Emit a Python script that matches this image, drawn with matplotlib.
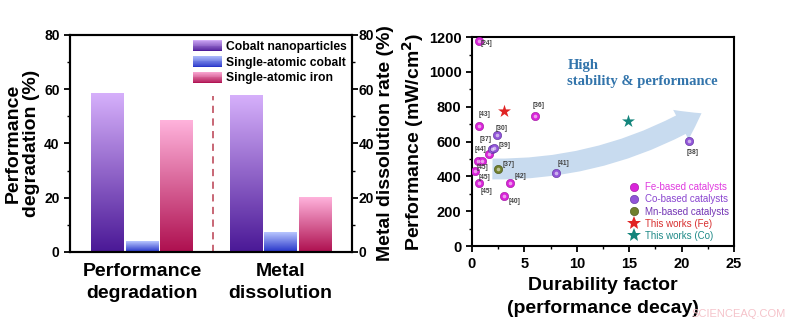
import numpy as np
import matplotlib
matplotlib.use("Agg")
import matplotlib.pyplot as plt
from matplotlib.colors import LinearSegmentedColormap
from matplotlib.legend_handler import HandlerBase
from matplotlib.patches import Rectangle, FancyArrowPatch
from matplotlib.lines import Line2D
from matplotlib.ticker import MultipleLocator

plt.rcParams["font.family"] = ["Liberation Sans", "DejaVu Sans"]
plt.rcParams["font.weight"] = "bold"
plt.rcParams["axes.linewidth"] = 1.5

# ---- left panel: degradation / dissolution bars ----
groups = ["Performance\ndegradation", "Metal\ndissolution"]
catalysts = ["Cobalt nanoparticles", "Single-atomic cobalt", "Single-atomic iron"]
cobalt_np = [58.3, 57.6]
sa_cobalt = [3.9, 7.1]
sa_iron = [48.4, 20.1]

# ---- right panel: performance vs durability ----
fe_x = [0.7, 0.7, 6.0, 1.65, 0.6, 1.0, 0.32, 0.7, 3.63, 3.06]
fe_y = [1180, 692, 749, 529, 489, 489, 431, 364, 360, 289]
fe_refs = ["[24]", "[43]", "[36]", "[44]", "", "[45]", "[45]", "[45]", "[42]", "[40]"]
co_x = [2.4, 1.95, 2.1, 8.03, 20.73]
co_y = [638, 556, 566, 420, 602]
co_refs = ["[30]", "[37]", "[39]", "[41]", "[38]"]
mn_x = [2.45]
mn_y = [441]
mn_refs = ["[37]"]
this_fe = ([3.1], [778])
this_co = ([14.9], [719])
trend_x = [1.95, 21.9]
trend_y = [443, 763]

# label offsets in points (style, not data)
fe_off = [(5, -2), (4, 8), (2.5, 7), (-6.5, 3.6), (0, 0), (0, -5),
          (6.5, -4.8), (4.8, -6), (7.2, 4.8), (7.4, -4.3)]
co_off = [(3.4, 5), (-5, 7), (8, 1.4), (5.5, 7), (2.7, -8)]
mn_off = [(7.7, 3.8)]

bar_colors = [("#4a1896", "#d6b0fb"), ("#2432c8", "#b8c6ff"), ("#ae0f4f", "#ffb3dc")]


def grad_cmap(dark, light):
    return LinearSegmentedColormap.from_list("g", [dark, light])


class GradientKey:
    def __init__(self, dark, light):
        self.dark, self.light = dark, light


class GradientHandler(HandlerBase):
    def create_artists(self, legend, orig_handle, xdescent, ydescent,
                       width, height, fontsize, trans):
        cmap = grad_cmap(orig_handle.dark, orig_handle.light)
        n = 14
        arts = []
        for i in range(n):
            arts.append(Rectangle((-xdescent, -ydescent + i * height / n),
                                  width, height / n * 1.05,
                                  fc=cmap((i + 0.5) / n), lw=0, transform=trans))
        return arts


fig = plt.figure(figsize=(8, 3.26), dpi=100)

ax1 = fig.add_axes([0.0875, 0.227, 0.3525, 0.666])
x = np.arange(len(groups))
width = 0.235
offs = (np.arange(3) - 1) * 0.2475
grad = np.linspace(0, 1, 256).reshape(-1, 1)
for vals, (dark, light), off in zip([cobalt_np, sa_cobalt, sa_iron], bar_colors, offs):
    bars = ax1.bar(x + off, vals, width, color="none", lw=0)
    for b in bars:
        ax1.imshow(grad, cmap=grad_cmap(dark, light), origin="lower", aspect="auto",
                   extent=[b.get_x(), b.get_x() + b.get_width(), 0, b.get_height()],
                   zorder=2)
ax1.axvline(0.51, ymax=0.72, color="#c45a6a", lw=1.3, ls=(0, (4, 3)), zorder=1)
ax1.set_xlim(-0.52, 1.515)
ax1.set_ylim(0, 80)
ax1.set_xticks(x, groups, fontsize=14, fontweight="bold", linespacing=1.4)
ax1.tick_params(axis="x", length=0, pad=8)
ax1.yaxis.set_major_locator(MultipleLocator(20))
ax1.yaxis.set_minor_locator(MultipleLocator(10))
ax1.tick_params(axis="y", which="major", length=4, width=1.3, labelsize=10)
ax1.tick_params(axis="y", which="minor", length=2.5, width=1.0)
ax1.set_ylabel("Performance\ndegradation (%)", fontsize=14, fontweight="bold",
               linespacing=1.1, labelpad=3)

ax1r = ax1.twinx()
ax1r.set_ylim(0, 80)
ax1r.yaxis.set_major_locator(MultipleLocator(20))
ax1r.yaxis.set_minor_locator(MultipleLocator(10))
ax1r.tick_params(axis="y", which="major", length=4, width=1.3, labelsize=10, pad=1)
ax1r.tick_params(axis="y", which="minor", length=2.5, width=1.0)
ax1r.set_ylabel("Metal dissolution rate (%)", fontsize=14, fontweight="bold", labelpad=2)

keys = [GradientKey(d, l) for d, l in bar_colors]
ax1.legend(keys, catalysts, handler_map={GradientKey: GradientHandler()},
           loc="upper right", frameon=False, fontsize=8.7, handlelength=2.4,
           handleheight=1.1, labelspacing=0.25, handletextpad=0.4,
           borderpad=0.3, borderaxespad=0.1)

# ---- right panel ----
ax2 = fig.add_axes([0.59, 0.245, 0.3275, 0.641])
ax2.add_patch(FancyArrowPatch((trend_x[0], trend_y[0]), (trend_x[1], trend_y[1]),
                              connectionstyle="arc3,rad=0.14",
                              arrowstyle="simple,head_length=17,head_width=24,tail_width=15",
                              fc="#c8dbef", ec="none", lw=0, shrinkA=0, shrinkB=0,
                              zorder=1))

fe_c, co_c, mn_c = "#d924d9", "#9155d8", "#717f2c"
for xs, ys, c, ec in [(fe_x, fe_y, fe_c, "#9a0f9a"), (co_x, co_y, co_c, "#5a2a9a"),
                      (mn_x, mn_y, mn_c, "#444f15")]:
    ax2.scatter(xs, ys, s=36, c=c, edgecolors=ec, linewidths=0.4, zorder=3)
    ax2.scatter(xs, ys, s=7, c="white", alpha=0.55, lw=0, zorder=4)

ax2.scatter(*this_fe, s=95, marker="*", c="#e02424", lw=0, zorder=3)
ax2.scatter(*this_co, s=95, marker="*", c="#14857c", lw=0, zorder=3)

for xs, ys, refs, offl in [(fe_x, fe_y, fe_refs, fe_off), (co_x, co_y, co_refs, co_off),
                           (mn_x, mn_y, mn_refs, mn_off)]:
    for xi, yi, r, o in zip(xs, ys, refs, offl):
        if r:
            ax2.annotate(r, (xi, yi), xytext=o, textcoords="offset points",
                         ha="center", va="center", fontsize=4.8, color="#444444",
                         zorder=5)

ax2.text(9.1, 990, "High\nstability & performance", family="Liberation Serif",
         fontweight="bold", fontsize=10.5, color="#3274ab", ha="left", va="center",
         linespacing=1.3)

ax2.set_xlim(0, 25)
ax2.set_ylim(0, 1200)
ax2.xaxis.set_major_locator(MultipleLocator(5))
ax2.xaxis.set_minor_locator(MultipleLocator(2.5))
ax2.yaxis.set_major_locator(MultipleLocator(200))
ax2.yaxis.set_minor_locator(MultipleLocator(100))
ax2.tick_params(which="major", length=4, width=1.3, labelsize=10.5)
ax2.tick_params(which="minor", length=2.5, width=1.0)
ax2.set_xlabel("Durability factor\n(performance decay)", fontsize=14,
               fontweight="bold", linespacing=1.4, labelpad=5)
ax2.set_ylabel("Performance (mW/cm$^\\mathbf{2}$)", fontsize=14, fontweight="bold",
               labelpad=2)

handles = [
    Line2D([], [], ls="none", marker="o", ms=6, mfc=fe_c, mec="#9a0f9a", mew=0.4),
    Line2D([], [], ls="none", marker="o", ms=6, mfc=co_c, mec="#5a2a9a", mew=0.4),
    Line2D([], [], ls="none", marker="o", ms=6, mfc=mn_c, mec="#444f15", mew=0.4),
    Line2D([], [], ls="none", marker="*", ms=10, mfc="#e02424", mew=0),
    Line2D([], [], ls="none", marker="*", ms=10, mfc="#14857c", mew=0),
]
labels = ["Fe-based catalysts", "Co-based catalysts", "Mn-based catalysts",
          "This works (Fe)", "This works (Co)"]
ax2.legend(handles, labels, loc="lower right", frameon=False,
           labelcolor=["#e03ae0", "#8a45d0", "#7234b4", "#d83030", "#208a88"],
           prop={"weight": "normal", "size": 7}, handlelength=1.0,
           handletextpad=0.6, labelspacing=0.22, borderaxespad=0.15)

fig.text(0.982, 0.02, "SCIENCEAQ.COM", ha="right", va="bottom", fontsize=8,
         fontweight="normal", color="#f5c3ca")

fig.savefig("out.png", dpi=100)
